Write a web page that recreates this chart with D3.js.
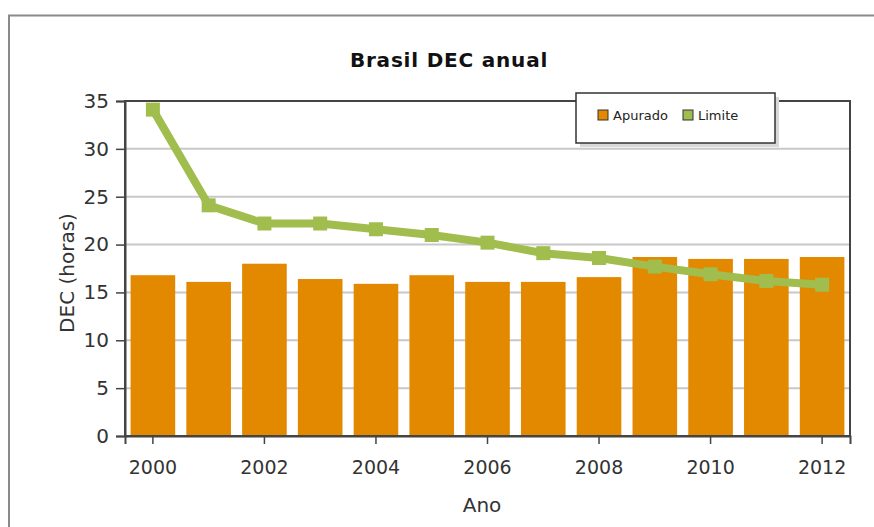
<!DOCTYPE html>
<html>
<head>
<meta charset="utf-8">
<script src="https://cdn.jsdelivr.net/npm/d3@7"></script>
<style>
  body { margin: 0; background: #fff; }
  svg { display: block; font-family: "DejaVu Sans", "Liberation Sans", Arial, sans-serif; }
</style>
</head>
<body>
<script>
// data
var years = [2000, 2001, 2002, 2003, 2004, 2005, 2006, 2007, 2008, 2009, 2010, 2011, 2012];
var apurado = [16.8, 16.1, 18.0, 16.4, 15.9, 16.8, 16.1, 16.1, 16.6, 18.7, 18.5, 18.5, 18.7];
var limite = [34.1, 24.1, 22.2, 22.2, 21.6, 21.0, 20.2, 19.1, 18.6, 17.7, 16.9, 16.2, 15.8];
var yTicks = [0, 5, 10, 15, 20, 25, 30, 35];
var xTickYears = [2000, 2002, 2004, 2006, 2008, 2010, 2012];

var W = 874, H = 527;
var margin = {top: 101, right: 24, bottom: 91, left: 125},
    width = W - margin.left - margin.right,
    height = H - margin.top - margin.bottom;

var svg = d3.select("body").append("svg")
    .attr("width", W)
    .attr("height", H);

// outer frame (cut by the window on the right and bottom)
svg.append("path")
    .attr("d", "M9,530 L9,15.5 L880,15.5")
    .attr("fill", "none")
    .attr("stroke", "#8a8a8a")
    .attr("stroke-width", 2);

svg.append("text")
    .attr("x", 449)
    .attr("y", 67)
    .attr("text-anchor", "middle")
    .style("font-weight", "bold")
    .style("font-size", "20px")
    .style("letter-spacing", "0.8px")
    .attr("fill", "#111")
    .text("Brasil DEC anual");

var g = svg.append("g")
    .attr("transform", "translate(" + margin.left + "," + margin.top + ")");

var x = d3.scaleBand().domain(years).range([0, width]).paddingInner(0.2).paddingOuter(0.1);
var y = d3.scaleLinear().domain([0, 35]).range([height, 0]);

// gridlines
g.append("g")
    .selectAll("line")
    .data(yTicks.slice(1, -1))
    .enter().append("line")
    .attr("x1", 0).attr("x2", width)
    .attr("y1", function(d) { return y(d); })
    .attr("y2", function(d) { return y(d); })
    .attr("stroke", "#c8c8c8")
    .attr("stroke-width", 2);

// bars
g.selectAll(".bar")
    .data(years)
    .enter().append("rect")
    .attr("class", "bar")
    .attr("x", function(d) { return x(d); })
    .attr("width", x.bandwidth())
    .attr("y", function(d, i) { return y(apurado[i]); })
    .attr("height", function(d, i) { return height - y(apurado[i]); })
    .attr("fill", "#e38900");

// limite line
var line = d3.line()
    .x(function(d, i) { return x(years[i]) + x.bandwidth() / 2; })
    .y(function(d) { return y(d); });

g.append("path")
    .datum(limite)
    .attr("fill", "none")
    .attr("stroke", "#a0bd4e")
    .attr("stroke-width", 8)
    .attr("stroke-linejoin", "round")
    .attr("d", line);

g.selectAll(".mk")
    .data(limite)
    .enter().append("rect")
    .attr("class", "mk")
    .attr("x", function(d, i) { return x(years[i]) + x.bandwidth() / 2 - 7; })
    .attr("y", function(d) { return y(d) - 7; })
    .attr("width", 14)
    .attr("height", 14)
    .attr("fill", "#a0bd4e");

// plot frame
g.append("rect")
    .attr("width", width)
    .attr("height", height)
    .attr("fill", "none")
    .attr("stroke", "#444")
    .attr("stroke-width", 2);

// y axis
var yAxis = g.append("g")
    .call(d3.axisLeft(y).tickValues(yTicks).tickSize(9).tickPadding(7));
yAxis.select(".domain").attr("stroke", "#444").attr("stroke-width", 2);
yAxis.selectAll(".tick line").attr("stroke", "#444").attr("stroke-width", 1.5);
yAxis.selectAll("text")
    .style("font-family", "'DejaVu Sans', sans-serif")
    .style("font-size", "20px")
    .attr("fill", "#333");

// x axis
var xAxis = g.append("g")
    .attr("transform", "translate(0," + height + ")")
    .call(d3.axisBottom(x).tickValues(xTickYears).tickSize(8).tickPadding(17));
xAxis.select(".domain").attr("stroke", "#444").attr("stroke-width", 2);
xAxis.selectAll(".tick line").attr("stroke", "#444").attr("stroke-width", 1.5);
xAxis.selectAll("text")
    .style("font-family", "'DejaVu Sans', sans-serif")
    .style("font-size", "19px")
    .attr("fill", "#333");

// axis titles
svg.append("text")
    .attr("transform", "rotate(-90)")
    .attr("x", -273)
    .attr("y", 74)
    .attr("text-anchor", "middle")
    .style("font-size", "20px")
    .attr("fill", "#333")
    .text("DEC (horas)");

svg.append("text")
    .attr("x", 482)
    .attr("y", 512)
    .attr("text-anchor", "middle")
    .style("font-size", "20px")
    .attr("fill", "#333")
    .text("Ano");

// legend
var leg = svg.append("g").attr("transform", "translate(576,93)");
leg.append("rect")
    .attr("x", 4).attr("y", 4)
    .attr("width", 199).attr("height", 50)
    .attr("fill", "#d8d8d8");
leg.append("rect")
    .attr("width", 199).attr("height", 50)
    .attr("fill", "#fff")
    .attr("stroke", "#333")
    .attr("stroke-width", 1.5);

var items = [{name: "Apurado", color: "#e38900", x: 22}, {name: "Limite", color: "#a0bd4e", x: 107}];
items.forEach(function(it) {
    leg.append("rect")
        .attr("x", it.x).attr("y", 17)
        .attr("width", 10).attr("height", 10)
        .attr("fill", it.color)
        .attr("stroke", "#333")
        .attr("stroke-width", 1);
    leg.append("text")
        .attr("x", it.x + 15)
        .attr("y", 27)
        .style("font-size", "13px")
        .attr("fill", "#222")
        .text(it.name);
});
</script>
</body>
</html>
